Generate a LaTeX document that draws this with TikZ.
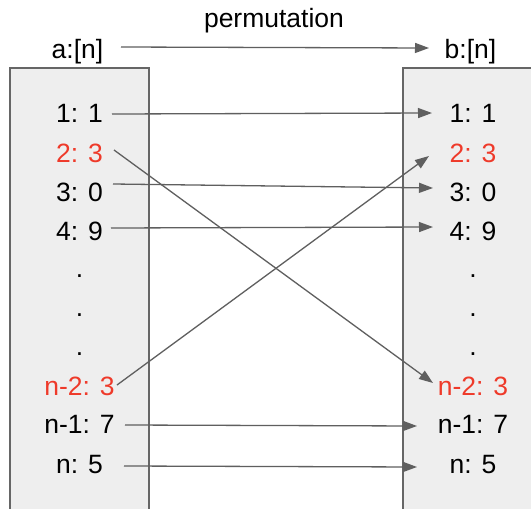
\documentclass[tikz,border=0pt]{standalone}
\usepackage{fontspec}
\setmainfont{Liberation Sans}
\usetikzlibrary{arrows.meta}
\definecolor{boxfill}{RGB}{238,238,238}
\definecolor{boxline}{RGB}{102,102,102}
\definecolor{arrcol}{RGB}{95,95,95}
\definecolor{hired}{RGB}{238,58,42}
\tikzset{
  lbl/.style={inner sep=0pt, anchor=base, font=\fontsize{26.5}{30}\selectfont},
  redlbl/.style={lbl, text=hired},
  arr/.style={draw=arrcol, line width=1.3pt, -{Triangle[length=14pt,width=10pt]}},
  arraybox/.style={fill=boxfill, draw=boxline, line width=1.3pt}
}
\begin{document}
\begin{tikzpicture}[x=1pt,y=-1pt]
\useasboundingbox (0,0) rectangle (531,509);
\clip (0,0) rectangle (531,509);
\fill[white] (0,0) rectangle (531,509);
% boxes
\draw[arraybox] (10,68) rectangle (149,530);
\draw[arraybox] (403,68) rectangle (560,530);
% headers
\node[lbl] (perm) at (274,27) {permutation};
\node[lbl] (ta) at (77.5,58) {a:[n]};
\node[lbl] (tb) at (470.5,58) {b:[n]};
% left column
\node[lbl] (a1) at (79.5,122) {1: 1};
\node[redlbl] (a2) at (79.5,162) {2: 3};
\node[lbl] (a3) at (79.5,201) {3: 0};
\node[lbl] (a4) at (79.5,240) {4: 9};
\node[lbl] (ad1) at (79.5,277) {.};
\node[lbl] (ad2) at (79.5,316) {.};
\node[lbl] (ad3) at (79.5,355) {.};
\node[redlbl] (an2) at (79.5,395) {n-2: 3};
\node[lbl] (an1) at (79.5,433) {n-1: 7};
\node[lbl] (an) at (79.5,473) {n: 5};
% right column
\node[lbl] (b1) at (473,122) {1: 1};
\node[redlbl] (b2) at (473,162) {2: 3};
\node[lbl] (b3) at (473,201) {3: 0};
\node[lbl] (b4) at (473,240) {4: 9};
\node[lbl] (bd1) at (473,277) {.};
\node[lbl] (bd2) at (473,316) {.};
\node[lbl] (bd3) at (473,355) {.};
\node[redlbl] (bn2) at (473,395) {n-2: 3};
\node[lbl] (bn1) at (473,433) {n-1: 7};
\node[lbl] (bn) at (473,473) {n: 5};
% connectors
\draw[arr] ([shift={(43.5,-11)}]ta.base) -- ([shift={(-41.5,-10)}]tb.base);
\draw[arr] ([shift={(32.5,-8)}]a1.base) -- ([shift={(-41,-9)}]b1.base);
\draw[arr] ([shift={(34.5,-12)}]a2.base) -- ([shift={(-40,-12)}]bn2.base);
\draw[arr] ([shift={(33.5,-17)}]a3.base) -- ([shift={(-40,-13)}]b3.base);
\draw[arr] ([shift={(31.5,-12)}]a4.base) -- ([shift={(-40,-13)}]b4.base);
\draw[arr] ([shift={(37.5,-10)}]an2.base) -- ([shift={(-44,-6)}]b2.base);
\draw[arr] ([shift={(45.5,-8)}]an1.base) -- ([shift={(-56,-7)}]bn1.base);
\draw[arr] ([shift={(44.5,-7)}]an.base) -- ([shift={(-56,-6)}]bn.base);
\end{tikzpicture}
\end{document}
